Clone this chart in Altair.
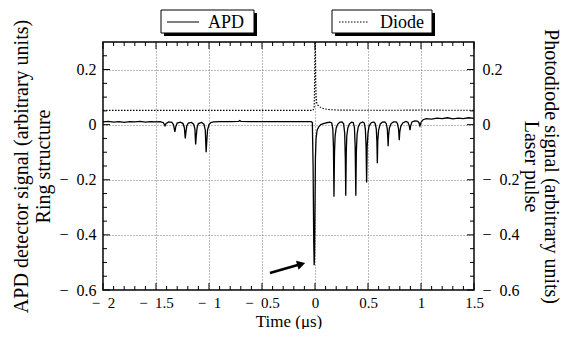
import altair as alt
import pandas as pd

# ---------------- data ----------------
apd_time = [-2.00, -1.95, -1.90, -1.85, -1.80, -1.75, -1.70, -1.65, -1.60, -1.55, -1.50, -1.46,
            -1.43, -1.415, -1.405, -1.38, -1.35, -1.335, -1.322, -1.314, -1.30, -1.27,
            -1.245, -1.232, -1.224, -1.218, -1.21, -1.195, -1.165, -1.145, -1.133, -1.126,
            -1.120, -1.112, -1.10, -1.07, -1.048, -1.035, -1.027, -1.021, -1.014, -1.00,
            -0.985, -0.96, -0.90, -0.80, -0.72, -0.71, -0.70, -0.60, -0.50, -0.40, -0.30,
            -0.20, -0.10, -0.035, -0.025, -0.018, -0.012, -0.008, -0.004, 0.000, 0.004,
            0.010, 0.020, 0.035, 0.055, 0.08, 0.11, 0.14, 0.158, 0.168, 0.174, 0.179, 0.184,
            0.19, 0.20, 0.215, 0.235, 0.255, 0.270, 0.280, 0.286, 0.290, 0.295, 0.30, 0.31,
            0.325, 0.345, 0.36, 0.372, 0.379, 0.385, 0.390, 0.397, 0.408, 0.425, 0.45, 0.465,
            0.475, 0.482, 0.487, 0.492, 0.50, 0.51, 0.53, 0.555, 0.568, 0.578, 0.584, 0.588,
            0.592, 0.60, 0.615, 0.635, 0.658, 0.672, 0.682, 0.687, 0.690, 0.694, 0.702, 0.718,
            0.74, 0.765, 0.778, 0.788, 0.795, 0.800, 0.81, 0.83, 0.86, 0.878, 0.89, 0.896,
            0.902, 0.915, 0.94, 0.965, 0.98, 0.99, 1.00, 1.02, 1.05, 1.10, 1.15, 1.20, 1.25,
            1.30, 1.35, 1.40, 1.45, 1.50]
apd_signal = [0.010, 0.012, 0.009, 0.011, 0.008, 0.011, 0.010, 0.012, 0.009, 0.011, 0.010, 0.011,
              0.007, -0.004, 0.004, 0.010, 0.008, 0.000, -0.026, -0.008, 0.006, 0.009,
              0.004, -0.012, -0.050, -0.028, -0.005, 0.006, 0.008, 0.002, -0.015, -0.072,
              -0.040, -0.010, 0.004, 0.008, 0.002, -0.020, -0.100, -0.060, -0.020, 0.000,
              0.007, 0.010, 0.011, 0.011, 0.012, 0.015, 0.012, 0.011, 0.011, 0.011, 0.011,
              0.011, 0.011, 0.011, 0.008, -0.150, -0.420, -0.510, -0.470, -0.300, -0.120,
              -0.050, -0.020, -0.008, 0.000, 0.004, 0.007, 0.009, 0.006, -0.015, -0.080, -0.262, -0.100,
              -0.040, -0.012, 0.002, 0.009, 0.010, 0.003, -0.030, -0.120, -0.258, -0.100, -0.040, -0.012,
              0.003, 0.009, 0.008, -0.010, -0.080, -0.258, -0.100, -0.035, -0.008, 0.005, 0.010, 0.006,
              -0.015, -0.080, -0.210, -0.080, -0.030, -0.005, 0.007, 0.010, 0.004, -0.015, -0.060, -0.140,
              -0.060, -0.020, 0.002, 0.009, 0.010, 0.004, -0.015, -0.050, -0.078, -0.040, -0.012, 0.004,
              0.010, 0.010, 0.004, -0.015, -0.056, -0.025, -0.005, 0.007, 0.012, 0.008, -0.005, -0.020,
              -0.005, 0.010, 0.014, 0.013, 0.008, -0.004, 0.008, 0.018, 0.022, 0.020, 0.024, 0.022, 0.025,
              0.021, 0.024, 0.022, 0.025, 0.023]

diode_time = [-2.0, -1.5, -1.0, -0.5, -0.02, -0.008, -0.004, 0.000, 0.004, 0.007, 0.011, 0.016,
              0.025, 0.04, 0.06, 0.09, 0.13, 0.20, 0.6, 1.0, 1.5]
diode_signal = [0.052, 0.052, 0.052, 0.052, 0.052, 0.060, 0.150, 0.300, 0.300, 0.160, 0.100, 0.080,
                0.072, 0.066, 0.061, 0.057, 0.055, 0.053, 0.052, 0.053, 0.052]

series_names = ["APD", "Diode"]

x_major = [-2, -1.5, -1, -0.5, 0, 0.5, 1, 1.5]
x_minor = [-1.9, -1.8, -1.7, -1.6, -1.4, -1.3, -1.2, -1.1, -0.9, -0.8, -0.7, -0.6,
           -0.4, -0.3, -0.2, -0.1, 0.1, 0.2, 0.3, 0.4, 0.6, 0.7, 0.8, 0.9,
           1.1, 1.2, 1.3, 1.4]
y_major = [-0.6, -0.4, -0.2, 0, 0.2]
y_minor = [-0.55, -0.5, -0.45, -0.35, -0.3, -0.25, -0.15, -0.1, -0.05,
           0.05, 0.1, 0.15, 0.25]

arrow_x = [-0.425, -0.13]
arrow_y = [-0.538, -0.506]

# ---------------- layout ----------------
W, H = 371, 248
FONT = "Liberation Serif, Times New Roman, serif"
XDOM = [-2, 1.5]
YDOM = [-0.6, 0.3]
LABEL_EXPR = ("datum.value < 0 ? '\u2212\u2002' + format(abs(datum.value), '.1~f') "
              ": format(datum.value, '.1~f')")

label_style = dict(labelFont=FONT, labelColor="black",
                   titleFont=FONT, titleFontWeight="normal", titleColor="black")

x_axis = alt.Axis(values=x_major, labelExpr=LABEL_EXPR, grid=True, ticks=False, domain=False,
                  labelFlush=False, labelPadding=5, labelFontSize=15,
                  title="Time (μs)", titlePadding=3, titleFontSize=17, **label_style)
xscale = alt.Scale(domain=XDOM, nice=False, zero=False)


def yscale():
    return alt.Scale(domain=YDOM, nice=False, zero=False)


apd_df = pd.DataFrame({"t": apd_time, "v": apd_signal})
diode_df = pd.DataFrame({"t": diode_time, "v": diode_signal})

apd = alt.Chart(apd_df).mark_line(color="black", strokeWidth=1.3).encode(
    x=alt.X("t:Q", scale=xscale, axis=x_axis),
    y=alt.Y("v:Q", scale=yscale(), axis=alt.Axis(
        orient="left", values=y_major, labelExpr=LABEL_EXPR, grid=True, ticks=False,
        domain=False, labelFlush=False, labelPadding=7, labelFontSize=16,
        title=["APD detector signal (arbitrary units)", "Ring structure"],
        titlePadding=5, titleLineHeight=22, titleFontSize=20, **label_style)),
)

diode = alt.Chart(diode_df).mark_line(color="black", strokeWidth=1.1, strokeDash=[1.5, 1.5]).encode(
    x=alt.X("t:Q", scale=xscale, axis=x_axis),
    y=alt.Y("v:Q", scale=yscale(), axis=alt.Axis(
        orient="right", values=y_major, labelExpr=LABEL_EXPR, grid=False, ticks=False,
        domain=False, labelFlush=False, labelPadding=8, labelFontSize=16,
        title=["Photodiode signal (arbitrary units)", "Laser pulse"],
        titlePadding=1, titleLineHeight=20, titleFontSize=20, **label_style)),
)


def xticks(vals, length):
    df = pd.DataFrame({"t": vals})
    bottom = alt.Chart(df).mark_rule(color="black", strokeWidth=1).encode(
        x=alt.X("t:Q", scale=xscale, axis=x_axis), y=alt.value(H), y2=alt.value(H - length))
    top = alt.Chart(df).mark_rule(color="black", strokeWidth=1).encode(
        x=alt.X("t:Q", scale=xscale, axis=x_axis), y=alt.value(0), y2=alt.value(length))
    return [bottom, top]


def yticks(vals, length):
    df = pd.DataFrame({"v": vals})
    left = alt.Chart(df).mark_rule(color="black", strokeWidth=1).encode(
        y=alt.Y("v:Q", scale=yscale(), axis=None), x=alt.value(0), x2=alt.value(length))
    right = alt.Chart(df).mark_rule(color="black", strokeWidth=1).encode(
        y=alt.Y("v:Q", scale=yscale(), axis=None), x=alt.value(W), x2=alt.value(W - length))
    return [left, right]


arrow_df = pd.DataFrame({"t": arrow_x, "v": arrow_y})
arrow_shaft = alt.Chart(arrow_df).mark_line(color="black", strokeWidth=2.6).encode(
    x=alt.X("t:Q", scale=xscale, axis=x_axis),
    y=alt.Y("v:Q", scale=yscale(), axis=None))
arrow_head = alt.Chart(arrow_df.iloc[[1]]).mark_point(
    shape="triangle-right", filled=True, color="black", opacity=1, size=90, angle=344).encode(
    x=alt.X("t:Q", scale=xscale, axis=x_axis),
    y=alt.Y("v:Q", scale=yscale(), axis=None))


def legend_item(name, x0, x1, lx0, lx1, tx, dash):
    df = pd.DataFrame({"name": [name]})
    base = alt.Chart(df)
    shadow = base.mark_rect(color="black").encode(
        x=alt.value(x0 + 3), x2=alt.value(x1 + 3), y=alt.value(-29), y2=alt.value(-6))
    box = base.mark_rect(fill="white", stroke="black", strokeWidth=1).encode(
        x=alt.value(x0), x2=alt.value(x1), y=alt.value(-32), y2=alt.value(-9))
    sample = base.mark_rule(color="black", strokeWidth=1.1, strokeDash=dash).encode(
        x=alt.value(lx0), x2=alt.value(lx1), y=alt.value(-20))
    label = base.mark_text(font=FONT, fontSize=18, align="left", baseline="middle",
                           color="black").encode(
        x=alt.value(tx), y=alt.value(-19.5), text="name:N")
    return [shadow, box, sample, label]


layers = [apd, diode]
layers += xticks(x_major, 7) + xticks(x_minor, 4)
layers += yticks(y_major, 7) + yticks(y_minor, 4)
layers += [arrow_shaft, arrow_head]
layers += legend_item(series_names[0], 58, 151, 64, 96, 105, [1, 0])
layers += legend_item(series_names[1], 229, 329, 236, 266, 277, [1.5, 1.5])

chart = alt.layer(*layers).resolve_scale(y="independent").properties(
    width=W, height=H,
    padding={"left": 95, "top": 34, "right": 89, "bottom": 39},
    autosize=alt.AutoSizeParams(type="none"),
).configure_view(stroke="black", strokeWidth=1.5).configure_axis(
    labelFont=FONT, labelColor="black",
    titleFont=FONT, titleFontWeight="normal", titleColor="black",
    gridColor="#555555", gridDash=[1, 2], gridWidth=0.8,
)

chart.save("out.html", embed_options={"renderer": "svg", "actions": False})
